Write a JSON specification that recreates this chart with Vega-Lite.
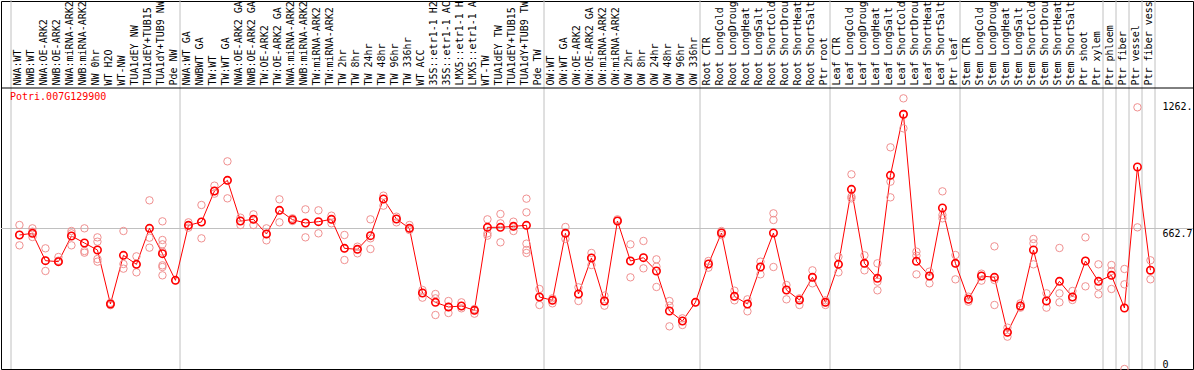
{
"$schema": "https://vega.github.io/schema/vega-lite/v6.json",
"width": 1192, "height": 368,
"autosize": "none",
"padding": {"left": 1, "top": 1, "right": 1, "bottom": 1},
"background": "white",
"config": {"view": {"stroke": "black", "strokeWidth": 1}, "font": "DejaVu Sans Mono"},
"datasets": {
"means": [
{"label":"NWA:WT","value":632.1},{"label":"NWB:WT","value":639.9},{"label":"NWA:OE-ARK2","value":511.0},{"label":"NWB:OE-ARK2","value":506.3},{"label":"NWA:miRNA-ARK2","value":627.4},{"label":"NWB:miRNA-ARK2","value":594.3},{"label":"NW 0hr","value":561.3},{"label":"WT H2O","value":306.6},{"label":"WT-NW","value":536.2},{"label":"TUA1dEY NW","value":493.7},{"label":"TUA1dEY+TUB15","value":663.5},{"label":"TUA1dY+TUB9 NW","value":544.0},{"label":"Pde NW","value":418.2},
{"label":"NWA:WT GA","value":677.7},{"label":"NWBWT GA","value":693.4},{"label":"TW:WT","value":839.6},{"label":"TW:WT GA","value":889.9},{"label":"NWA:OE-ARK2 GA","value":698.1},{"label":"NWB:OE-ARK2 GA","value":706.0},{"label":"TW:OE-ARK2","value":636.8},{"label":"TW:OE-ARK2 GA","value":748.4},{"label":"NWA:miRNA-ARK2 ","value":704.4},{"label":"NWB:miRNA-ARK2 ","value":688.7},{"label":"TW:miRNA-ARK2","value":694.9},{"label":"TW:miRNA-ARK2 ","value":706.0},{"label":"TW 2hr","value":569.2},{"label":"TW 8hr","value":564.5},{"label":"TW 24hr","value":628.9},{"label":"TW 48hr","value":801.9},{"label":"TW 96hr","value":707.5},{"label":"TW 336hr","value":663.5},{"label":"WT ACC","value":358.5},{"label":"35S::etr1-1 H2","value":314.5},{"label":"35S::etr1-1 AC","value":292.4},{"label":"LMX5::etr1-1 H","value":297.2},{"label":"LMX5::etr1-1 A","value":276.7},{"label":"WT-TW","value":668.2},{"label":"TUA1dEY TW","value":668.2},{"label":"TUA1dEY+TUB15 ","value":672.9},{"label":"TUA1dY+TUB9 TW","value":677.7},{"label":"Pde TW","value":339.6},
{"label":"OW:WT","value":323.9},{"label":"OW:WT GA","value":639.9},{"label":"OW:OE-ARK2","value":353.8},{"label":"OW:OE-ARK2 GA","value":523.6},{"label":"OW:miRNA-ARK2","value":320.7},{"label":"OW:miRNA-ARK2 ","value":698.1},{"label":"OW 2hr","value":509.4},{"label":"OW 8hr","value":525.1},{"label":"OW 24hr","value":462.3},{"label":"OW 48hr","value":273.6},{"label":"OW 96hr","value":226.4},{"label":"OW 336hr","value":314.5},
{"label":"Root CTR","value":495.3},{"label":"Root LongCold","value":641.5},{"label":"Root LongDroug","value":342.8},{"label":"Root LongHeat","value":306.6},{"label":"Root LongSalt","value":481.1},{"label":"Root ShortCold","value":641.5},{"label":"Root ShortDrou","value":372.6},{"label":"Root ShortHeat","value":325.5},{"label":"Root ShortSalt","value":432.4},{"label":"Ptr root","value":314.5},
{"label":"Leaf CTR","value":493.7},{"label":"Leaf LongCold","value":847.5},{"label":"Leaf LongDroug","value":498.4},{"label":"Leaf LongHeat","value":427.7},{"label":"Leaf LongSalt","value":913.5},{"label":"Leaf ShortCold","value":1201.3},{"label":"Leaf ShortDrou","value":507.8},{"label":"Leaf ShortHeat","value":438.6},{"label":"Leaf ShortSalt","value":759.4},{"label":"Ptr leaf","value":498.4},
{"label":"Stem CTR","value":328.6},{"label":"Stem LongCold","value":438.6},{"label":"Stem LongDroug","value":432.4},{"label":"Stem LongHeat","value":172.9},{"label":"Stem LongSalt","value":297.2},{"label":"Stem ShortCold","value":561.3},{"label":"Stem ShortDrou","value":320.7},{"label":"Stem ShortHeat","value":413.5},{"label":"Stem ShortSalt","value":339.6},{"label":"Ptr shoot","value":509.4},{"label":"Ptr xylem","value":413.5},{"label":"Ptr phloem","value":441.8},{"label":"Ptr fiber","value":287.7},{"label":"Ptr vessel","value":952.8},{"label":"Ptr fiber vess","value":466.0}
],
"reps": [
{"label":"NWA:WT","value":679.2},{"label":"NWA:WT","value":632.1},{"label":"NWA:WT","value":583.3},
{"label":"NWB:WT","value":663.5},{"label":"NWB:WT","value":647.8},{"label":"NWB:WT","value":622.6},
{"label":"NWA:OE-ARK2","value":569.2},{"label":"NWA:OE-ARK2","value":511.0},{"label":"NWA:OE-ARK2","value":462.3},
{"label":"NWB:OE-ARK2","value":528.3},{"label":"NWB:OE-ARK2","value":511.0},{"label":"NWB:OE-ARK2","value":506.3},
{"label":"NWA:miRNA-ARK2","value":650.9},{"label":"NWA:miRNA-ARK2","value":639.9},{"label":"NWA:miRNA-ARK2","value":583.3},
{"label":"NWB:miRNA-ARK2","value":663.5},{"label":"NWB:miRNA-ARK2","value":556.6},{"label":"NWB:miRNA-ARK2","value":548.7},
{"label":"NW 0hr","value":621.0},{"label":"NW 0hr","value":600.6},{"label":"NW 0hr","value":518.8},{"label":"NW 0hr","value":506.3},
{"label":"WT H2O","value":312.0},{"label":"WT H2O","value":306.6},{"label":"WT H2O","value":301.0},
{"label":"WT-NW","value":650.9},{"label":"WT-NW","value":495.3},{"label":"WT-NW","value":473.3},
{"label":"TUA1dEY NW","value":531.4},{"label":"TUA1dEY NW","value":493.7},{"label":"TUA1dEY NW","value":455.9},
{"label":"TUA1dEY+TUB15","value":795.6},{"label":"TUA1dEY+TUB15","value":619.5},{"label":"TUA1dEY+TUB15","value":572.3},
{"label":"TUA1dY+TUB9 NW","value":696.5},{"label":"TUA1dY+TUB9 NW","value":608.5},{"label":"TUA1dY+TUB9 NW","value":588.0},{"label":"TUA1dY+TUB9 NW","value":553.4},{"label":"TUA1dY+TUB9 NW","value":489.0},{"label":"TUA1dY+TUB9 NW","value":481.1},{"label":"TUA1dY+TUB9 NW","value":441.8},
{"label":"Pde NW","value":418.2},
{"label":"NWA:WT GA","value":691.8},{"label":"NWA:WT GA","value":677.7},{"label":"NWA:WT GA","value":666.7},
{"label":"NWBWT GA","value":773.6},{"label":"NWBWT GA","value":693.4},{"label":"NWBWT GA","value":616.3},
{"label":"TW:WT","value":864.8},{"label":"TW:WT","value":839.6},{"label":"TW:WT","value":827.0},
{"label":"TW:WT GA","value":979.5},{"label":"TW:WT GA","value":889.9},{"label":"TW:WT GA","value":805.0},
{"label":"NWA:OE-ARK2 GA","value":713.8},{"label":"NWA:OE-ARK2 GA","value":698.1},{"label":"NWA:OE-ARK2 GA","value":679.2},
{"label":"NWB:OE-ARK2 GA","value":729.5},{"label":"NWB:OE-ARK2 GA","value":706.0},{"label":"NWB:OE-ARK2 GA","value":679.2},
{"label":"TW:OE-ARK2","value":663.5},{"label":"TW:OE-ARK2","value":636.8},{"label":"TW:OE-ARK2","value":606.9},
{"label":"TW:OE-ARK2 GA","value":800.3},{"label":"TW:OE-ARK2 GA","value":748.4},{"label":"TW:OE-ARK2 GA","value":691.8},
{"label":"NWA:miRNA-ARK2 ","value":710.7},{"label":"NWA:miRNA-ARK2 ","value":704.4},{"label":"NWA:miRNA-ARK2 ","value":698.1},
{"label":"NWB:miRNA-ARK2 ","value":753.1},{"label":"NWB:miRNA-ARK2 ","value":688.7},{"label":"NWB:miRNA-ARK2 ","value":621.0},
{"label":"TW:miRNA-ARK2","value":748.4},{"label":"TW:miRNA-ARK2","value":694.9},{"label":"TW:miRNA-ARK2","value":639.9},
{"label":"TW:miRNA-ARK2 ","value":723.3},{"label":"TW:miRNA-ARK2 ","value":706.0},{"label":"TW:miRNA-ARK2 ","value":687.1},
{"label":"TW 2hr","value":632.1},{"label":"TW 2hr","value":569.2},{"label":"TW 2hr","value":514.1},
{"label":"TW 8hr","value":577.0},{"label":"TW 8hr","value":564.5},{"label":"TW 8hr","value":545.6},
{"label":"TW 24hr","value":706.0},{"label":"TW 24hr","value":616.3},{"label":"TW 24hr","value":566.0},
{"label":"TW 48hr","value":817.6},{"label":"TW 48hr","value":801.9},{"label":"TW 48hr","value":770.4},
{"label":"TW 96hr","value":718.5},{"label":"TW 96hr","value":707.5},{"label":"TW 96hr","value":691.8},
{"label":"TW 336hr","value":679.2},{"label":"TW 336hr","value":663.5},{"label":"TW 336hr","value":655.6},
{"label":"WT ACC","value":372.6},{"label":"WT ACC","value":358.5},{"label":"WT ACC","value":336.5},
{"label":"35S::etr1-1 H2","value":353.8},{"label":"35S::etr1-1 H2","value":333.3},{"label":"35S::etr1-1 H2","value":254.7},
{"label":"35S::etr1-1 AC","value":320.7},{"label":"35S::etr1-1 AC","value":292.4},{"label":"35S::etr1-1 AC","value":264.1},
{"label":"LMX5::etr1-1 H","value":314.5},{"label":"LMX5::etr1-1 H","value":297.2},{"label":"LMX5::etr1-1 H","value":286.2},
{"label":"LMX5::etr1-1 A","value":283.0},{"label":"LMX5::etr1-1 A","value":276.7},{"label":"LMX5::etr1-1 A","value":261.0},
{"label":"WT-TW","value":706.0},{"label":"WT-TW","value":639.9},{"label":"WT-TW","value":628.9},
{"label":"TUA1dEY TW","value":731.1},{"label":"TUA1dEY TW","value":687.1},{"label":"TUA1dEY TW","value":597.5},
{"label":"TUA1dEY+TUB15 ","value":694.9},{"label":"TUA1dEY+TUB15 ","value":672.9},{"label":"TUA1dEY+TUB15 ","value":650.9},
{"label":"TUA1dY+TUB9 TW","value":803.4},{"label":"TUA1dY+TUB9 TW","value":739.0},{"label":"TUA1dY+TUB9 TW","value":591.2},{"label":"TUA1dY+TUB9 TW","value":561.3},{"label":"TUA1dY+TUB9 TW","value":547.2},
{"label":"Pde TW","value":377.4},{"label":"Pde TW","value":339.6},{"label":"Pde TW","value":301.9},
{"label":"OW:WT","value":333.3},{"label":"OW:WT","value":323.9},{"label":"OW:WT","value":309.7},
{"label":"OW:WT GA","value":669.8},{"label":"OW:WT GA","value":639.9},{"label":"OW:WT GA","value":613.2},
{"label":"OW:OE-ARK2","value":385.2},{"label":"OW:OE-ARK2","value":353.8},{"label":"OW:OE-ARK2","value":320.7},
{"label":"OW:OE-ARK2 GA","value":547.2},{"label":"OW:OE-ARK2 GA","value":523.6},{"label":"OW:OE-ARK2 GA","value":490.5},
{"label":"OW:miRNA-ARK2","value":345.9},{"label":"OW:miRNA-ARK2","value":320.7},{"label":"OW:miRNA-ARK2","value":298.7},
{"label":"OW:miRNA-ARK2 ","value":706.0},{"label":"OW:miRNA-ARK2 ","value":698.1},
{"label":"OW 2hr","value":588.0},{"label":"OW 2hr","value":509.4},{"label":"OW 2hr","value":432.4},
{"label":"OW 8hr","value":603.8},{"label":"OW 8hr","value":525.1},{"label":"OW 8hr","value":474.8},
{"label":"OW 24hr","value":517.3},{"label":"OW 24hr","value":482.7},{"label":"OW 24hr","value":386.8},
{"label":"OW 48hr","value":320.7},{"label":"OW 48hr","value":298.7},{"label":"OW 48hr","value":201.2},
{"label":"OW 96hr","value":239.0},{"label":"OW 96hr","value":226.4},{"label":"OW 96hr","value":207.5},
{"label":"OW 336hr","value":314.5},
{"label":"Root CTR","value":509.4},{"label":"Root CTR","value":495.3},{"label":"Root CTR","value":478.0},
{"label":"Root LongCold","value":650.9},{"label":"Root LongCold","value":641.5},{"label":"Root LongCold","value":632.1},
{"label":"Root LongDroug","value":369.5},{"label":"Root LongDroug","value":342.8},{"label":"Root LongDroug","value":323.9},
{"label":"Root LongHeat","value":328.6},{"label":"Root LongHeat","value":306.6},{"label":"Root LongHeat","value":272.0},
{"label":"Root LongSalt","value":506.3},{"label":"Root LongSalt","value":481.1},{"label":"Root LongSalt","value":446.5},
{"label":"Root ShortCold","value":734.3},{"label":"Root ShortCold","value":702.8},{"label":"Root ShortCold","value":481.1},
{"label":"Root ShortDrou","value":396.2},{"label":"Root ShortDrou","value":372.6},{"label":"Root ShortDrou","value":328.6},
{"label":"Root ShortHeat","value":333.3},{"label":"Root ShortHeat","value":325.5},{"label":"Root ShortHeat","value":301.9},
{"label":"Root ShortSalt","value":465.4},{"label":"Root ShortSalt","value":432.4},{"label":"Root ShortSalt","value":404.1},
{"label":"Ptr root","value":323.9},{"label":"Ptr root","value":314.5},{"label":"Ptr root","value":301.9},
{"label":"Leaf CTR","value":529.9},{"label":"Leaf CTR","value":493.7},{"label":"Leaf CTR","value":455.9},
{"label":"Leaf LongCold","value":918.2},{"label":"Leaf LongCold","value":812.9},{"label":"Leaf LongCold","value":805.0},
{"label":"Leaf LongDroug","value":536.2},{"label":"Leaf LongDroug","value":498.4},{"label":"Leaf LongDroug","value":465.4},
{"label":"Leaf LongHeat","value":498.4},{"label":"Leaf LongHeat","value":411.9},{"label":"Leaf LongHeat","value":371.1},
{"label":"Leaf LongSalt","value":1045.6},{"label":"Leaf LongSalt","value":883.6},{"label":"Leaf LongSalt","value":809.7},
{"label":"Leaf ShortCold","value":1276.7},{"label":"Leaf ShortCold","value":1201.3},{"label":"Leaf ShortCold","value":1135.2},
{"label":"Leaf ShortDrou","value":553.4},{"label":"Leaf ShortDrou","value":534.6},{"label":"Leaf ShortDrou","value":446.5},
{"label":"Leaf ShortHeat","value":459.1},{"label":"Leaf ShortHeat","value":438.6},{"label":"Leaf ShortHeat","value":404.1},
{"label":"Leaf ShortSalt","value":838.0},{"label":"Leaf ShortSalt","value":726.4},{"label":"Leaf ShortSalt","value":710.7},
{"label":"Ptr leaf","value":537.7},{"label":"Ptr leaf","value":498.4},{"label":"Ptr leaf","value":422.9},
{"label":"Stem CTR","value":341.2},{"label":"Stem CTR","value":328.6},{"label":"Stem CTR","value":317.6},
{"label":"Stem LongCold","value":449.7},{"label":"Stem LongCold","value":438.6},{"label":"Stem LongCold","value":416.7},
{"label":"Stem LongDroug","value":578.6},{"label":"Stem LongDroug","value":419.8},{"label":"Stem LongDroug","value":301.9},
{"label":"Stem LongHeat","value":195.0},{"label":"Stem LongHeat","value":172.9},{"label":"Stem LongHeat","value":152.5},
{"label":"Stem LongSalt","value":309.7},{"label":"Stem LongSalt","value":297.2},{"label":"Stem LongSalt","value":289.3},
{"label":"Stem ShortCold","value":613.2},{"label":"Stem ShortCold","value":592.8},{"label":"Stem ShortCold","value":493.7},
{"label":"Stem ShortDrou","value":356.9},{"label":"Stem ShortDrou","value":320.7},{"label":"Stem ShortDrou","value":289.3},
{"label":"Stem ShortHeat","value":570.8},{"label":"Stem ShortHeat","value":356.9},{"label":"Stem ShortHeat","value":314.5},
{"label":"Stem ShortSalt","value":367.9},{"label":"Stem ShortSalt","value":339.6},{"label":"Stem ShortSalt","value":325.5},
{"label":"Ptr shoot","value":621.0},{"label":"Ptr shoot","value":509.4},{"label":"Ptr shoot","value":389.9},
{"label":"Ptr xylem","value":493.7},{"label":"Ptr xylem","value":389.9},{"label":"Ptr xylem","value":352.2},
{"label":"Ptr phloem","value":490.5},{"label":"Ptr phloem","value":462.3},{"label":"Ptr phloem","value":377.4},
{"label":"Ptr fiber","value":471.7},{"label":"Ptr fiber","value":399.4},{"label":"Ptr fiber","value":0},
{"label":"Ptr vessel","value":1234.3},{"label":"Ptr vessel","value":668.2},
{"label":"Ptr fiber vess","value":512.7},{"label":"Ptr fiber vess","value":466.0},{"label":"Ptr fiber vess","value":423.1}
],
"bounds": [
{"label":"NWA:WT"},{"label":"NWA:WT GA"},{"label":"OW:WT"},{"label":"Root CTR"},{"label":"Leaf CTR"},{"label":"Stem CTR"},{"label":"Ptr phloem"},{"label":"Ptr fiber"},{"label":"Ptr vessel"},{"label":"Ptr fiber vess"}
],
"gene": [{"gene":"Potri.007G129900"}]
},
"layer": [
{
"data": {"name": "bounds"},
"mark": {"type": "rule", "color": "#c0c0c0", "strokeWidth": 1},
"encoding": {
"x": {"field": "label", "type": "nominal", "bandPosition": 0},
"y": {"datum": 0, "type": "quantitative"},
"y2": {"datum": 1760}
}
},
{
"data": {"name": "gene"},
"mark": {"type": "rule", "color": "#c0c0c0", "strokeWidth": 1},
"encoding": {
"x": {"datum": "Ptr fiber vess", "type": "nominal", "bandPosition": 1},
"y": {"datum": 0, "type": "quantitative"},
"y2": {"datum": 1760}
}
},
{
"data": {"name": "gene"},
"mark": {"type": "rule", "color": "#c0c0c0", "strokeWidth": 1},
"encoding": {"y": {"datum": 662.7, "type": "quantitative"}}
},
{
"data": {"name": "gene"},
"mark": {"type": "rule", "color": "black", "strokeWidth": 1},
"encoding": {"y": {"datum": 1325.4, "type": "quantitative"}}
},
{
"data": {"name": "means"},
"mark": {"type": "line", "color": "#ff0000", "strokeWidth": 1},
"encoding": {
"x": {"field": "label", "type": "nominal", "bandPosition": 0.65, "sort": null,
"scale": {"type": "band", "domain": ["NWA:WT","NWB:WT","NWA:OE-ARK2","NWB:OE-ARK2","NWA:miRNA-ARK2","NWB:miRNA-ARK2","NW 0hr","WT H2O","WT-NW","TUA1dEY NW","TUA1dEY+TUB15","TUA1dY+TUB9 NW","Pde NW","NWA:WT GA","NWBWT GA","TW:WT","TW:WT GA","NWA:OE-ARK2 GA","NWB:OE-ARK2 GA","TW:OE-ARK2","TW:OE-ARK2 GA","NWA:miRNA-ARK2 ","NWB:miRNA-ARK2 ","TW:miRNA-ARK2","TW:miRNA-ARK2 ","TW 2hr","TW 8hr","TW 24hr","TW 48hr","TW 96hr","TW 336hr","WT ACC","35S::etr1-1 H2","35S::etr1-1 AC","LMX5::etr1-1 H","LMX5::etr1-1 A","WT-TW","TUA1dEY TW","TUA1dEY+TUB15 ","TUA1dY+TUB9 TW","Pde TW","OW:WT","OW:WT GA","OW:OE-ARK2","OW:OE-ARK2 GA","OW:miRNA-ARK2","OW:miRNA-ARK2 ","OW 2hr","OW 8hr","OW 24hr","OW 48hr","OW 96hr","OW 336hr","Root CTR","Root LongCold","Root LongDroug","Root LongHeat","Root LongSalt","Root ShortCold","Root ShortDrou","Root ShortHeat","Root ShortSalt","Ptr root","Leaf CTR","Leaf LongCold","Leaf LongDroug","Leaf LongHeat","Leaf LongSalt","Leaf ShortCold","Leaf ShortDrou","Leaf ShortHeat","Leaf ShortSalt","Ptr leaf","Stem CTR","Stem LongCold","Stem LongDroug","Stem LongHeat","Stem LongSalt","Stem ShortCold","Stem ShortDrou","Stem ShortHeat","Stem ShortSalt","Ptr shoot","Ptr xylem","Ptr phloem","Ptr fiber","Ptr vessel","Ptr fiber vess"], "range": [10, 1154], "paddingInner": 0, "paddingOuter": 0},
"axis": {"orient": "top", "offset": -87, "title": null, "labelAngle": 270, "labelAlign": "left", "labelBaseline": "middle", "labelPadding": 3, "ticks": false, "domain": false, "grid": false, "labelLimit": 400, "labelOverlap": false, "labelFont": "DejaVu Sans Mono", "labelFontSize": 10, "labelColor": "black", "bandPosition": 0.5}
},
"y": {"field": "value", "type": "quantitative",
"scale": {"domain": [0, 1325.4], "range": [368, 87], "nice": false, "zero": false},
"axis": {"orient": "right", "offset": -31, "title": null, "values": [0, 662.7, 1262], "labelExpr": "datum.value == 0 ? '0' : datum.value == 662.7 ? '662.7' : '1262.'", "domain": false, "ticks": false, "grid": false, "labelPadding": 0, "labelAlign": "left", "labelBaseline": {"condition": {"test": "datum.value == 0", "value": "bottom"}, "value": "top"}, "labelFont": "DejaVu Sans Mono", "labelFontSize": 10, "labelColor": "black", "labelOverlap": false}
}
}
},
{
"data": {"name": "reps"},
"mark": {"type": "point", "shape": "circle", "filled": false, "color": "#f09090", "strokeWidth": 1, "size": 55, "opacity": 1},
"encoding": {
"x": {"field": "label", "type": "nominal", "bandPosition": 0.65},
"y": {"field": "value", "type": "quantitative"}
}
},
{
"data": {"name": "means"},
"mark": {"type": "point", "shape": "circle", "filled": false, "color": "#ff0000", "strokeWidth": 1.6, "size": 55, "opacity": 1},
"encoding": {
"x": {"field": "label", "type": "nominal", "bandPosition": 0.65},
"y": {"field": "value", "type": "quantitative"}
}
},
{
"data": {"name": "gene"},
"mark": {"type": "text", "align": "left", "baseline": "middle", "color": "#ff0000", "font": "DejaVu Sans Mono", "fontSize": 10, "dx": -1},
"encoding": {
"x": {"datum": "NWA:WT", "type": "nominal", "bandPosition": 0},
"y": {"datum": 1281, "type": "quantitative"},
"text": {"field": "gene", "type": "nominal"}
}
}
]
}
